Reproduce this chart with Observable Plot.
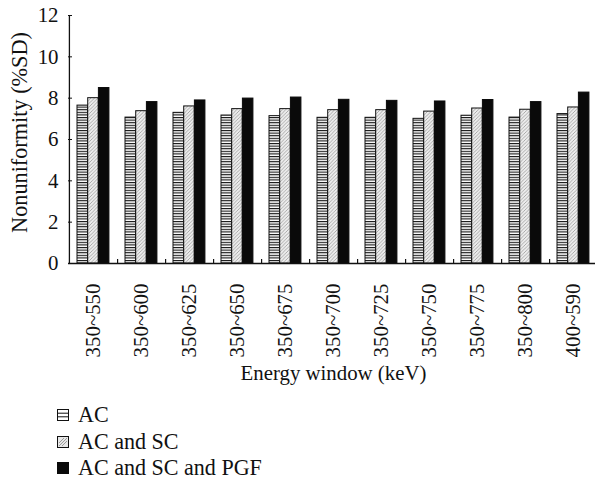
<!DOCTYPE html>
<html>
<head>
<meta charset="utf-8">
<script src="https://cdn.jsdelivr.net/npm/d3@7"></script>
<script src="https://cdn.jsdelivr.net/npm/@observablehq/plot@0.6"></script>
<style>
  body { margin: 0; background: #fff; font-family: "Liberation Serif", "Times New Roman", Tinos, "DejaVu Serif", "Noto Serif", serif; }
  #chart svg { display: block; }
  .legend { padding-left: 57px; margin-top: 12px; color: #111; }
  .legend .row { display: flex; align-items: center; height: 26.5px; }
  .legend svg { margin-right: 9px; }
</style>
</head>
<body>
<svg width="0" height="0" style="position:absolute">
  <defs>
    <pattern id="hstripe" patternUnits="userSpaceOnUse" width="4" height="2.6">
      <rect width="4" height="2.6" fill="#fff"/>
      <rect y="0" width="4" height="1.1" fill="#111"/>
    </pattern>
    <pattern id="diag" patternUnits="userSpaceOnUse" width="3.5" height="3.5">
      <rect width="3.5" height="3.5" fill="#ececec"/>
      <path d="M-1,1 L1,-1 M0,3.5 L3.5,0 M2.5,4.5 L4.5,2.5" stroke="#9a9a9a" stroke-width="0.8"/>
    </pattern>
  </defs>
</svg>
<div id="chart"></div>
<div class="legend" id="legend"></div>
<script>
const windows = ["350~550","350~600","350~625","350~650","350~675","350~700","350~725","350~750","350~775","350~800","400~590"];
const acValues   = [7.64,7.06,7.29,7.16,7.13,7.05,7.05,7.00,7.15,7.06,7.23];
const acscValues = [8.00,7.37,7.60,7.47,7.47,7.42,7.42,7.35,7.50,7.44,7.55];
const pgfValues  = [8.49,7.81,7.89,7.98,8.03,7.92,7.87,7.84,7.91,7.81,8.27];
const seriesNames = ["AC","AC and SC","AC and SC and PGF"];
const yTicks = [0,2,4,6,8,10,12];
const yTitle = "Nonuniformity (%SD)";
const xTitle = "Energy window (keV)";

const W = 595, H = 390, mL = 68, mR = -3, mT = 15, mB = 127;
const bw = (W - mL - mR) / windows.length;
const g0 = 8, bwid = 10.7;
const FONT = '"Liberation Serif", "Times New Roman", Tinos, "DejaVu Serif", "Noto Serif", serif';

// size text so its rendered width matches the reference width
const ctx = document.createElement("canvas").getContext("2d");
function fit(text, target) {
  ctx.font = `100px ${FONT}`;
  return Math.min(24, 100 * target / ctx.measureText(text).width);
}
const tickFs = fit("350~550", 74);
const yTitleFs = fit(yTitle, 201);
const xTitleFs = fit(xTitle, 186);
const legendFs = fit("AC and SC and PGF", 184);

const rows = windows.map((w, i) => ({w, ac: acValues[i], acsc: acscValues[i], pgf: pgfValues[i]}));

const chart = Plot.plot({
  width: W, height: H,
  marginLeft: mL, marginRight: mR, marginTop: mT, marginBottom: mB,
  style: {fontFamily: FONT, fontSize: tickFs + "px", color: "#111", background: "#fff"},
  x: {domain: windows, padding: 0, label: null},
  y: {domain: [0, 12], label: null},
  marks: [
    Plot.barY(rows, {x: "w", y: "ac", fill: "url(#hstripe)", stroke: "#111", strokeWidth: 1, insetLeft: g0, insetRight: bw - g0 - bwid}),
    Plot.barY(rows, {x: "w", y: "acsc", fill: "url(#diag)", stroke: "#111", strokeWidth: 1, insetLeft: g0 + bwid, insetRight: bw - g0 - 2 * bwid}),
    Plot.barY(rows, {x: "w", y: "pgf", fill: "#0a0a0a", stroke: "#0a0a0a", strokeWidth: 1, insetLeft: g0 + 2 * bwid, insetRight: bw - g0 - 3 * bwid}),
    Plot.ruleY([0], {stroke: "#111", strokeWidth: 1.3}),
    Plot.ruleX([windows[0]], {x: d => d, y1: 0, y2: 12, dx: -bw / 2, stroke: "#111", strokeWidth: 1.3}),
    Plot.ruleX(windows, {x: d => d, y1: 0, y2: 0, insetTop: -4, dx: bw / 2, stroke: "#111", strokeWidth: 1.2}),
    Plot.axisY({ticks: yTicks, tickSize: 4, dx: 4, tickFormat: () => "", stroke: "#111"}),
    Plot.axisY({ticks: yTicks, tickSize: 0, tickPadding: 10, fontSize: tickFs, fontFamily: FONT, fill: "#111"}),
    Plot.axisX({tickSize: 0, tickPadding: 20, tickRotate: -90, fontSize: tickFs, fontFamily: FONT, fill: "#111"}),
    Plot.text([yTitle], {frameAnchor: "left", textAnchor: "middle", lineAnchor: "middle", rotate: -90, dx: -49, dy: -7, fontSize: yTitleFs, fontFamily: FONT, fill: "#111", text: d => d}),
    Plot.text([xTitle], {frameAnchor: "bottom", textAnchor: "middle", lineAnchor: "middle", dy: 110, fontSize: xTitleFs, fontFamily: FONT, fill: "#111", text: d => d})
  ]
});
document.getElementById("chart").appendChild(chart);

const icons = [
  `<svg width="12" height="12"><rect x="0.5" y="0.5" width="11" height="11" fill="#fff" stroke="#111"/><line x1="0.5" x2="11.5" y1="4.2" y2="4.2" stroke="#111"/><line x1="0.5" x2="11.5" y1="7.8" y2="7.8" stroke="#111"/></svg>`,
  `<svg width="12" height="12"><rect x="0.5" y="0.5" width="11" height="11" fill="#e8e8e8" stroke="#111"/><path d="M2,10 L10,2 M5,10 L10,5 M2,7 L7,2" stroke="#888" stroke-width="0.8"/></svg>`,
  `<svg width="12" height="12"><rect x="0" y="0" width="12" height="12" fill="#0a0a0a"/></svg>`
];
const legend = document.getElementById("legend");
legend.style.fontSize = legendFs + "px";
legend.style.fontFamily = FONT;
seriesNames.forEach((n, i) => {
  const r = document.createElement("div");
  r.className = "row";
  r.innerHTML = icons[i] + `<span>${n}</span>`;
  legend.appendChild(r);
});
</script>
</body>
</html>
